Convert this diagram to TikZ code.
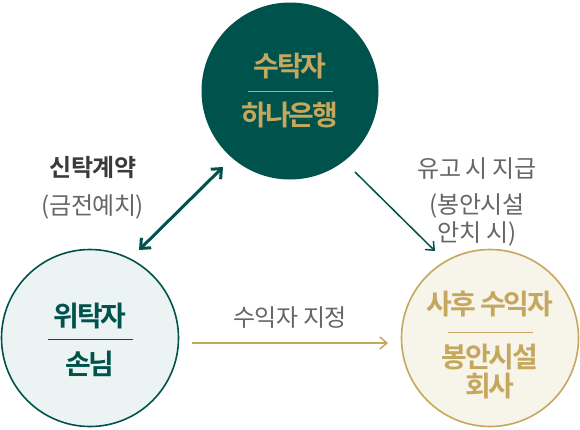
\documentclass[tikz,border=0pt]{standalone}
\usepackage{fontspec}
\setmainfont{Noto Sans CJK KR}[LetterSpace=-2]
\newfontfamily\krbold{Noto Sans CJK KR Bold}[LetterSpace=-8]
\newfontfamily\krlab{Noto Sans CJK KR Bold}[LetterSpace=-2]
\usetikzlibrary{arrows.meta}
\definecolor{dgreen}{HTML}{00524C}
\definecolor{gold}{HTML}{C5A75E}
\definecolor{lgreen}{HTML}{EBF4F3}
\definecolor{cream}{HTML}{F7F4EA}
\definecolor{tgray}{HTML}{3A3A3A}
\definecolor{lgray}{HTML}{666666}
\begin{document}
\begin{tikzpicture}[x=1pt,y=-1pt,
  party/.style={circle,minimum size=177pt,inner sep=0pt,line width=1.6pt},
  ctext/.style={font=\krbold\fontsize{28}{32}\selectfont,inner sep=0pt},
  lab/.style={font=\fontsize{24}{28}\selectfont,text=lgray,inner sep=0pt,align=center},
  conn/.style={line width=1.5pt,-{Straight Barb[length=7pt,width=12pt]}}]
\useasboundingbox[fill=white] (0,0) rectangle (580,429);
% circles
\node[party,fill=dgreen] (top) at (290,91) {};
\node[party,draw=dgreen,fill=lgreen] (left) at (90,338) {};
\node[party,draw=gold,fill=cream] (right) at (490,338) {};
% top text
\node[ctext,text=gold] (t1) at (290,66) {수탁자};
\node[ctext,text=gold] (t2) at (290,115) {하나은행};
\draw[gold,line width=0.8pt] (248,91) -- (333,91);
% left text
\node[ctext,text=dgreen] (l1) at (90,316) {위탁자};
\node[ctext,text=dgreen] (l2) at (90,364) {손님};
\draw[dgreen,line width=0.8pt] (48,339) -- (133,339);
% right text
\node[ctext,text=gold] (r1) at (490,304) {사후 수익자};
\node[ctext,text=gold] (r2) at (490,357) {봉안시설};
\node[ctext,text=gold] (r3) at (490,386) {회사};
\draw[gold,line width=0.6pt] (448,332) -- (533,332);
% labels
\node[lab,font=\krlab\fontsize{24}{28}\selectfont,text=tgray] (a1) at (93,168) {신탁계약};
\node[lab] (a2) at (93,207) {(금전예치)};
\node[lab] (b1) at (477,169) {유고 시 지급};
\node[lab] (b2) at (477,206) {(봉안시설};
\node[lab] (b3) at (477,234) {안치 시)};
\node[lab] (c1) at (290,318) {수익자 지정};
% connectors
\coordinate (d1) at (139,250);
\coordinate (d2) at (223,167);
\draw[dgreen,line width=3pt,{Straight Barb[length=8pt,width=14pt]}-{Straight Barb[length=8pt,width=14pt]}] (d1) -- (d2);
\coordinate (e1) at (355,172);
\coordinate (e2) at (435,251);
\draw[dgreen,conn] (e1) -- (e2);
\coordinate (f1) at (192,343);
\coordinate (f2) at (388,343);
\draw[gold,conn] (f1) -- (f2);
\end{tikzpicture}
\end{document}
